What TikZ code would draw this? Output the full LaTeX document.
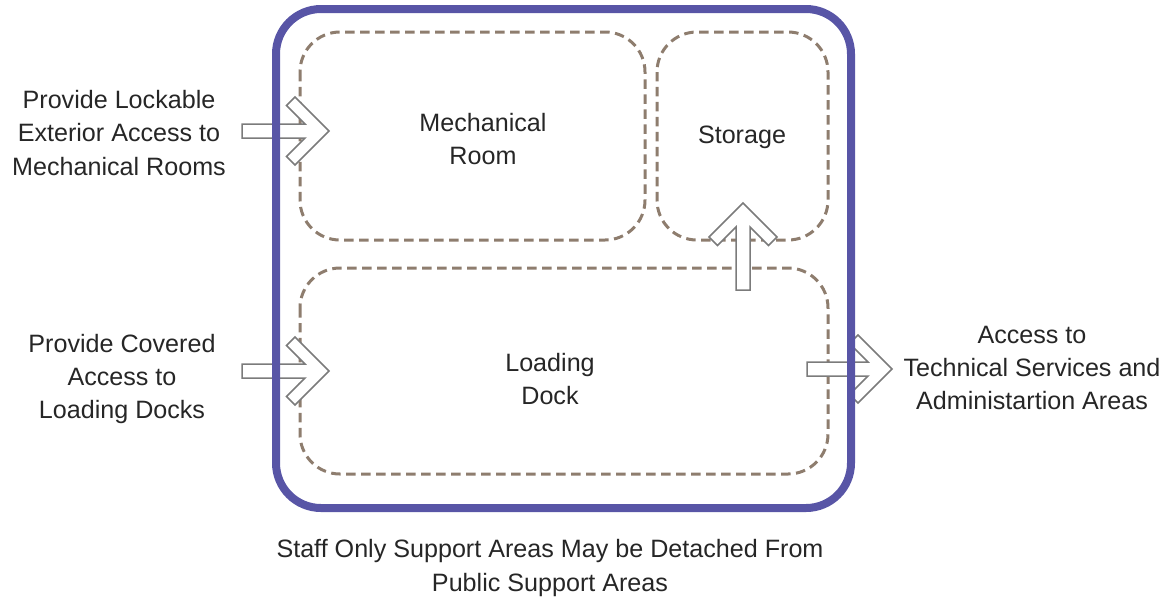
\documentclass[tikz,border=0pt]{standalone}
\usepackage{fontspec}
\setmainfont{Liberation Sans}
\usetikzlibrary{positioning}

\definecolor{framecol}{HTML}{5855A6}
\definecolor{zonecol}{HTML}{8E7D6E}
\definecolor{arrowcol}{HTML}{7B7B7B}
\definecolor{textcol}{HTML}{262626}

\begin{document}
\begin{tikzpicture}[x=0.02cm, y=-0.02cm,
  every node/.style={text=textcol, inner sep=0pt, align=center, font=\fontsize{14.3}{19}\selectfont},
  zone/.style={draw=zonecol, line width=0.06cm, dash pattern=on 0.19cm off 0.11cm, rounded corners=0.8cm},
  frame/.style={draw=framecol, line width=0.16cm, rounded corners=0.9cm},
  chev/.pic={
    \filldraw[draw=arrowcol, fill=white, line width=0.03cm, line join=miter]
      (-#1,7) -- (-24,7) -- (-42.5,25.5) -- (-34,34) -- (0,0) -- (-34,-34)
      -- (-42.5,-25.5) -- (-24,-7) -- (-#1,-7) -- cycle;
  }]

% Define the page size
\useasboundingbox (0,0) rectangle (1163,603);

% Dashed zones inside the support area
\draw[zone] (300,32) rectangle (645,240);
\draw[zone] (657,32) rectangle (828,240);
\draw[zone] (300,268) rectangle (828,474);

% Arrow tips
\coordinate (mechin) at (329,131);
\coordinate (dockin) at (329,371);
\coordinate (dockout) at (892,369);
\coordinate (storin) at (743,203);

% Block arrows
\pic at (mechin) {chev=87};
\pic at (dockin) {chev=87};
\pic at (dockout) {chev=85};
\pic[rotate=90] at (storin) {chev=87};

% Outer boundary
\draw[frame] (276,9) rectangle (851,508);

% Zone labels
\node (mech) at (483,139) {Mechanical\\Room};
\node (stor) at (742,137) {Storage};
\node (dock) at (550,379) {Loading\\Dock};

% Side notes
\node (locknote) at (119,133) {Provide Lockable\\Exterior Access to\\Mechanical Rooms};
\node (covnote) at (122,379) {Provide Covered\\Access to\\Loading Docks};
\node (accnote) at (1032,368) {Access to\\Technical Services and\\Administartion Areas};

% Caption
\node (staffnote) at (550,568) {Staff Only Support Areas May be Detached From\\Public Support Areas};

\end{tikzpicture}
\end{document}
